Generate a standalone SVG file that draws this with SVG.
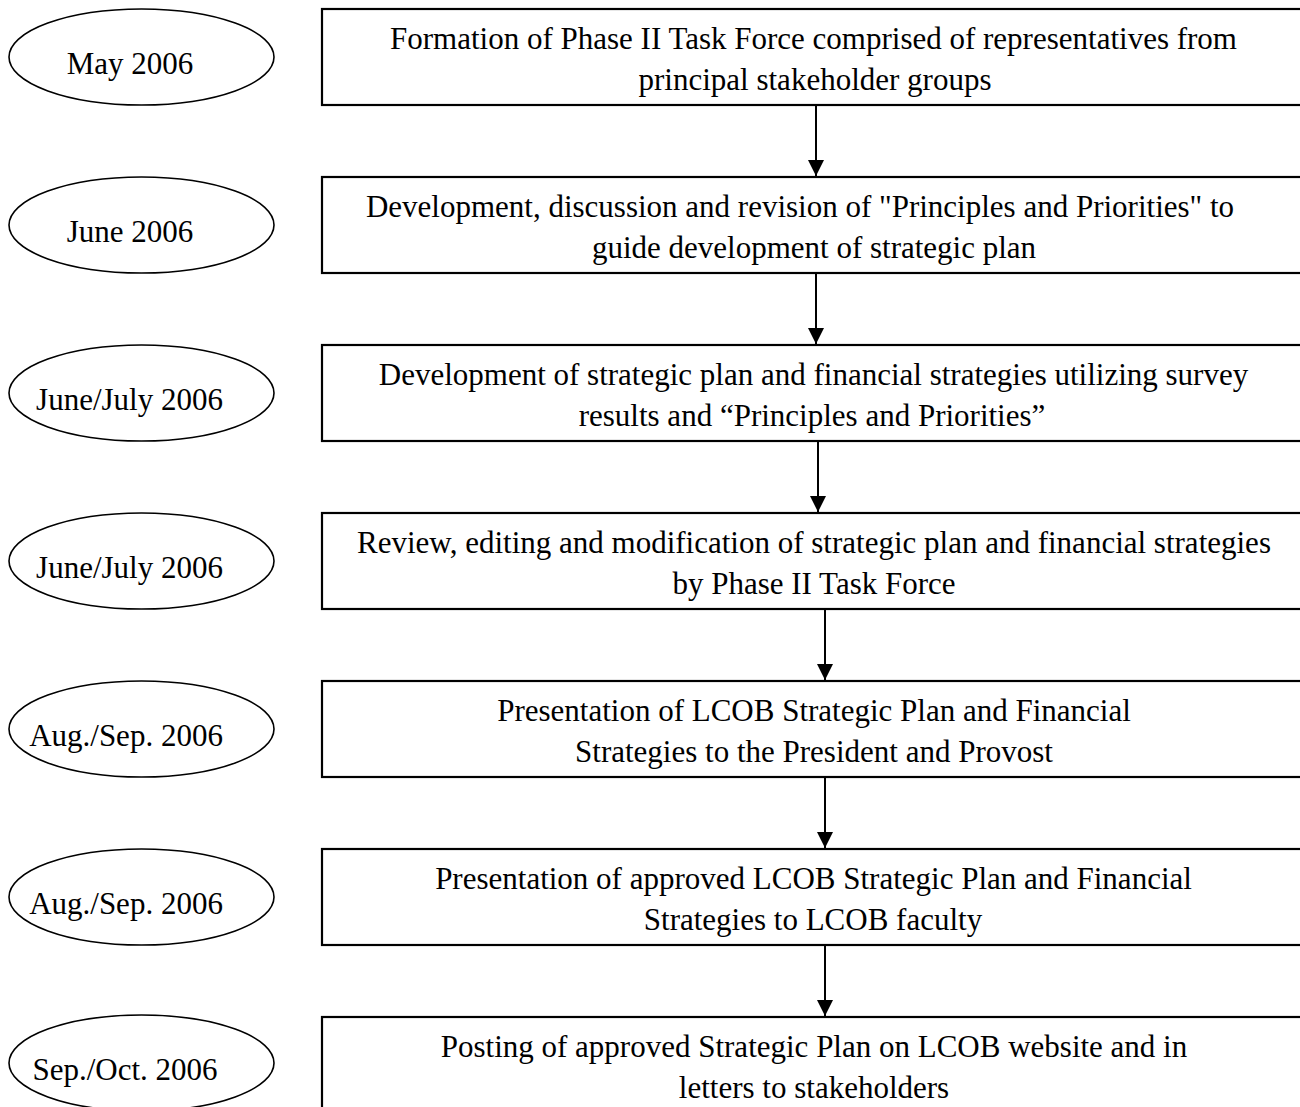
<svg xmlns="http://www.w3.org/2000/svg" width="1300" height="1107" viewBox="0 0 1300 1107">
<style>
.box{fill:#fff;stroke:#000;stroke-width:2.2}
.ell{fill:#fff;stroke:#000;stroke-width:1.6}
text{font-family:"Liberation Serif","Times New Roman",serif;font-size:31px;fill:#000;text-anchor:middle}
.con{stroke:#000;stroke-width:2;fill:none}
</style>
<defs>
<marker id="ah" markerUnits="userSpaceOnUse" markerWidth="16" markerHeight="16" refX="16" refY="8" orient="auto" viewBox="0 0 16 16">
<path d="M0,0 L16,8 L0,16 Z" fill="#000"/>
</marker>
</defs>
<rect width="1300" height="1107" fill="#fff"/>
<g id="connectors">
<line class="con" x1="816" y1="105" x2="816" y2="176" marker-end="url(#ah)" />
<line class="con" x1="816" y1="273" x2="816" y2="344" marker-end="url(#ah)" />
<line class="con" x1="818" y1="441" x2="818" y2="512" marker-end="url(#ah)" />
<line class="con" x1="825" y1="609" x2="825" y2="680" marker-end="url(#ah)" />
<line class="con" x1="825" y1="777" x2="825" y2="848" marker-end="url(#ah)" />
<line class="con" x1="825" y1="945" x2="825" y2="1016" marker-end="url(#ah)" />
</g>
<g id="date1"><ellipse class="ell" cx="141.5" cy="57" rx="132.5" ry="48"/><text x="130" y="74">May 2006</text></g>
<g id="date2"><ellipse class="ell" cx="141.5" cy="225" rx="132.5" ry="48"/><text x="130" y="242">June 2006</text></g>
<g id="date3"><ellipse class="ell" cx="141.5" cy="393" rx="132.5" ry="48"/><text x="129.5" y="410">June/July 2006</text></g>
<g id="date4"><ellipse class="ell" cx="141.5" cy="561" rx="132.5" ry="48"/><text x="129.5" y="578">June/July 2006</text></g>
<g id="date5"><ellipse class="ell" cx="141.5" cy="729" rx="132.5" ry="48"/><text x="126" y="746">Aug./Sep. 2006</text></g>
<g id="date6"><ellipse class="ell" cx="141.5" cy="897" rx="132.5" ry="48"/><text x="126" y="914">Aug./Sep. 2006</text></g>
<g id="date7"><ellipse class="ell" cx="141.5" cy="1063" rx="132.5" ry="48"/><text x="125" y="1080">Sep./Oct. 2006</text></g>
<g id="step1"><rect class="box" x="322" y="9" width="1000" height="96"/>
<text x="813.5" y="49">Formation of Phase II Task Force comprised of representatives from</text>
<text x="815" y="90">principal stakeholder groups</text></g>
<g id="step2"><rect class="box" x="322" y="177" width="1000" height="96"/>
<text x="800" y="217">Development, discussion and revision of "Principles and Priorities" to</text>
<text x="814" y="258">guide development of strategic plan</text></g>
<g id="step3"><rect class="box" x="322" y="345" width="1000" height="96"/>
<text x="813.5" y="385">Development of strategic plan and financial strategies utilizing survey</text>
<text x="812" y="426">results and “Principles and Priorities”</text></g>
<g id="step4"><rect class="box" x="322" y="513" width="1000" height="96"/>
<text x="814" y="553">Review, editing and modification of strategic plan and financial strategies</text>
<text x="814" y="594">by Phase II Task Force</text></g>
<g id="step5"><rect class="box" x="322" y="681" width="1000" height="96"/>
<text x="814" y="721">Presentation of LCOB Strategic Plan and Financial</text>
<text x="814" y="762">Strategies to the President and Provost</text></g>
<g id="step6"><rect class="box" x="322" y="849" width="1000" height="96"/>
<text x="813.5" y="889">Presentation of approved LCOB Strategic Plan and Financial</text>
<text x="813" y="930">Strategies to LCOB faculty</text></g>
<g id="step7"><rect class="box" x="322" y="1017" width="1000" height="96"/>
<text x="814" y="1057">Posting of approved Strategic Plan on LCOB website and in</text>
<text x="814" y="1098">letters to stakeholders</text></g>
</svg>
